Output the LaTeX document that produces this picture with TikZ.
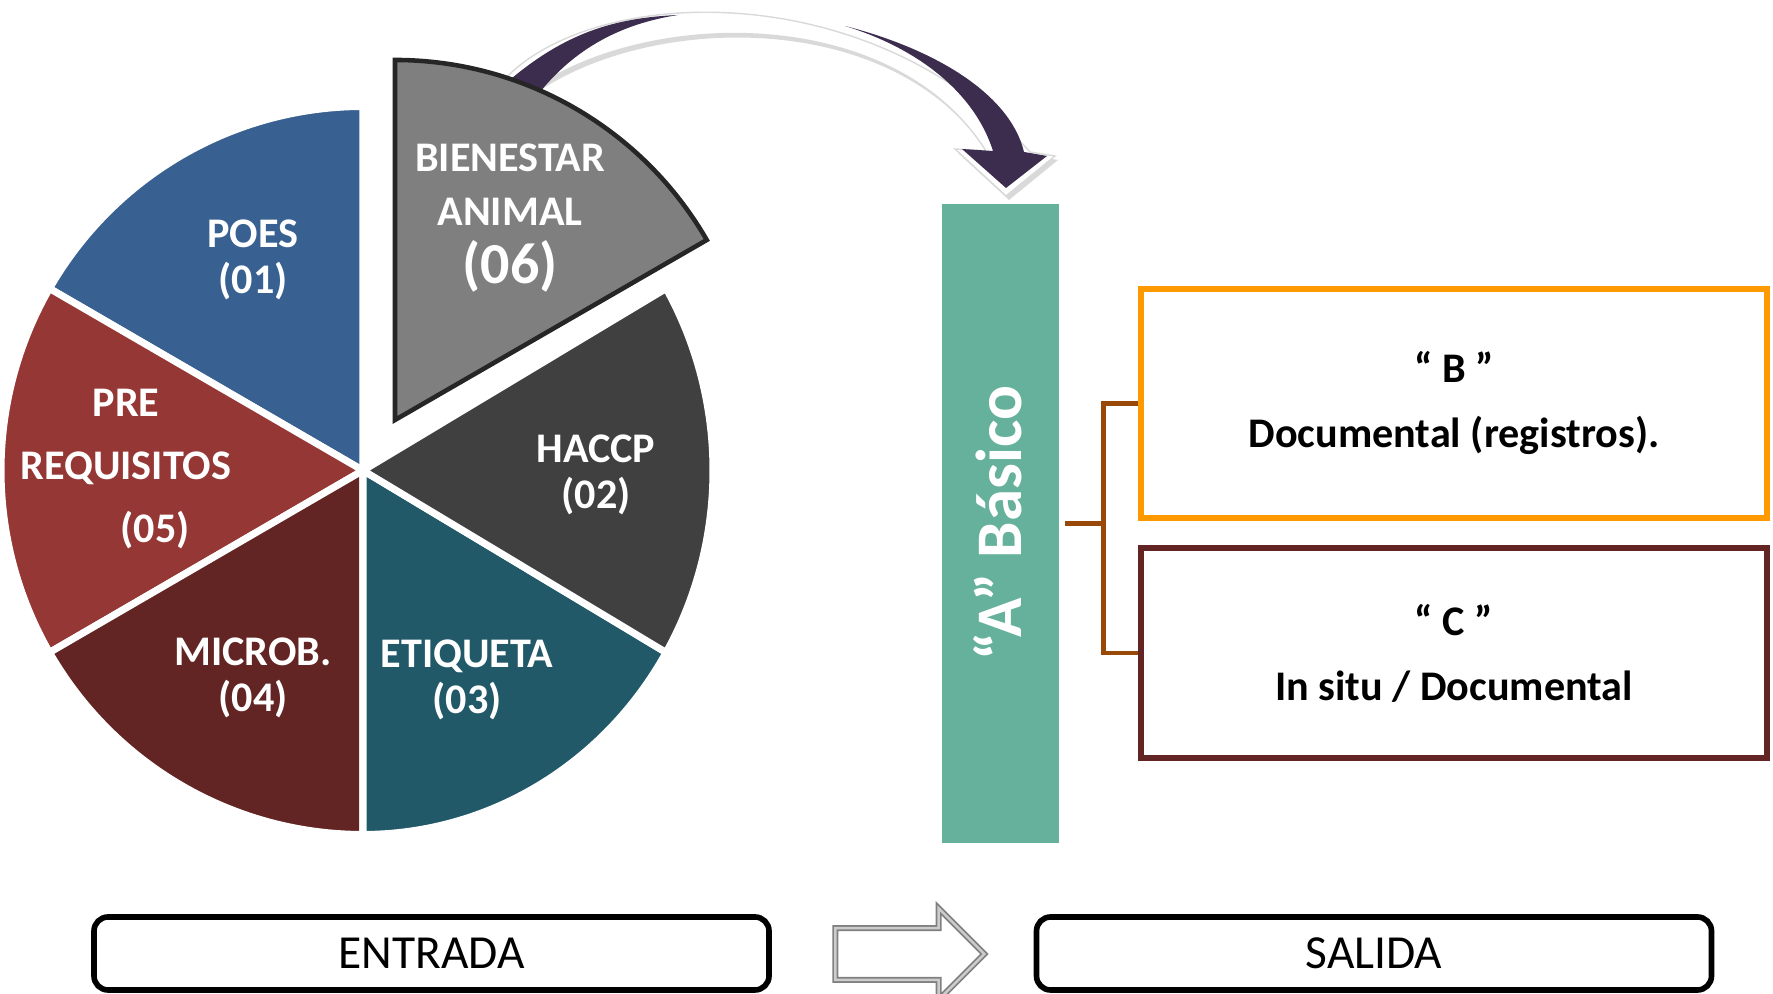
\documentclass[tikz,border=0pt]{standalone}
\usepackage{fontspec}
\setmainfont{Carlito}
\usetikzlibrary{shapes.arrows,positioning}

\definecolor{poesblue}{RGB}{56,97,146}
\definecolor{prered}{RGB}{149,55,53}
\definecolor{microred}{RGB}{99,37,35}
\definecolor{etiqteal}{RGB}{33,89,104}
\definecolor{haccpgray}{RGB}{64,64,64}
\definecolor{bienestargray}{RGB}{127,127,127}
\definecolor{basicogreen}{RGB}{102,177,155}
\definecolor{bracketbrown}{RGB}{152,72,7}
\definecolor{borderorange}{RGB}{255,153,0}
\definecolor{arcdark}{RGB}{60,45,79}

\tikzset{
  slicetxt/.style={text=white,font=\bfseries\fontsize{12}{13}\selectfont,align=center},
  boxtxt/.style={font=\bfseries\fontsize{12}{18.5}\selectfont,align=center,
    line width=1.6pt,minimum width=6.26cm},
  bracket/.style={draw=bracketbrown,line width=1.3pt},
  endbox/.style={draw=black,line width=1.6pt,rounded corners=4pt,minimum width=6.75cm,
    minimum height=0.73cm,font=\fontsize{13.5}{15}\selectfont},
}

\newcommand{\arcpath}{(5.02,9.12) .. controls (5.9,10.1) and (8.7,10.2) .. (10.30,8.42)
  -- (10.55,8.38) -- (10.06,7.98) -- (9.55,8.45) -- (9.86,8.43)
  .. controls (8.9,9.95) and (6.3,9.85) .. (5.20,8.95) -- cycle}

\begin{document}
\begin{tikzpicture}
\useasboundingbox (0,0) rectangle (17.73,9.94);
% curved arrow
\fill[black!15,shift={(0.03,-0.04)}] \arcpath;
\filldraw[fill=white,draw=black!15] \arcpath;
\fill[arcdark] (5.05,9.10) .. controls (5.65,9.62) and (6.15,9.76) .. (6.78,9.79)
  .. controls (6.2,9.70) and (5.75,9.45) .. (5.40,9.02) -- cycle;
\fill[arcdark] (8.45,9.68) .. controls (9.35,9.45) and (10.1,9.0) .. (10.24,8.42)
  -- (10.47,8.38) -- (10.06,8.06) -- (9.62,8.45) -- (9.93,8.43)
  .. controls (9.75,9.0) and (9.2,9.45) .. (8.45,9.68) -- cycle;

% pie
\foreach \a/\c/\r in {90/poesblue/3.62,150/prered/3.62,210/microred/3.62,270/etiqteal/3.5,330/haccpgray/3.5}
  \filldraw[fill=\c,draw=white,line width=2pt] (3.63,5.235) -- ++(\a:\r cm and 3.64cm)
    arc[start angle=\a,end angle=\a+60,x radius=\r,y radius=3.64] -- cycle;
% exploded slice
\filldraw[fill=bienestargray,draw=black!85,line width=1.3pt] (3.95,5.74) -- ++(30:3.6)
  arc[start angle=30,end angle=90,radius=3.6] -- cycle;

\node[slicetxt] (poes) at (2.53,7.34) {POES\\(01)};
\node[slicetxt] (haccp) at (5.96,5.19) {HACCP\\(02)};
\node[slicetxt] (etiqueta) at (4.67,3.14) {ETIQUETA\\(03)};
\node[slicetxt] (microb) at (2.53,3.16) {MICROB.\\(04)};
\node[slicetxt,font=\bfseries\fontsize{12}{18}\selectfont] (prereq) at (1.26,5.25)
  {PRE\\REQUISITOS\\\hspace*{0.58cm}(05)};
\node[slicetxt,font=\bfseries\fontsize{12}{15.5}\selectfont] (bienestar) at (5.10,7.76)
  {BIENESTAR\\ANIMAL\\[1pt]{\fontsize{16.5}{17}\selectfont(06)}};

% level bar
\node[fill=basicogreen,minimum width=1.17cm,minimum height=6.39cm,inner sep=0] (basico)
  at (10.0,4.705) {};
\node[rotate=90,text=white,font=\bfseries\fontsize{18.5}{20}\selectfont] (basicotxt)
  at ([xshift=-0.02cm]basico.center) {“A” Básico};

% result boxes
\node[boxtxt,draw=borderorange,minimum height=2.29cm] (cajab) at (14.54,5.905)
  {“ B ”\\Documental (registros).};
\node[boxtxt,draw=microred,minimum height=2.10cm] (cajac) at (14.54,3.41)
  {“ C ”\\In situ / Documental};
\draw[bracket] ([xshift=0.6mm]basico.east) -- ++(0.38,0) coordinate (fork);
\draw[bracket] (cajab.west) -| (fork) |- (cajac.west);

% bottom
\node[endbox] (entrada) at (4.315,0.405) {ENTRADA};
\node[endbox] (salida) at (13.74,0.405) {SALIDA};
\node[single arrow,draw=gray,double=gray!40,double distance=0.7pt,line width=0.5pt,
  minimum height=1.49cm,inner sep=0.25cm,single arrow head extend=0.2cm,
  single arrow head indent=0] (flecha) at (8.97,0.40) {};
\end{tikzpicture}
\end{document}
